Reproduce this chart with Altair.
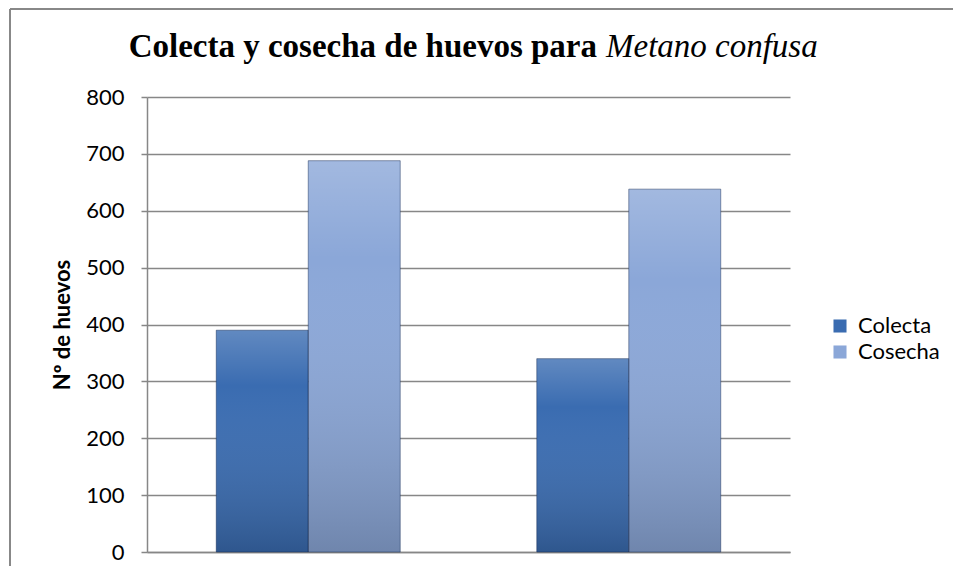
import altair as alt
import pandas as pd

# ---- data ----
grupos = ["1", "2"]
series = ["Colecta", "Cosecha"]
colecta = [390, 340]
cosecha = [688, 638]
colores = ["#3a6cb1", "#8ba7d8"]
y_ticks = [0, 100, 200, 300, 400, 500, 600, 700, 800]

rows = []
for g, c1, c2 in zip(grupos, colecta, cosecha):
    rows.append({"grupo": g, "serie": series[0], "valor": c1})
    rows.append({"grupo": g, "serie": series[1], "valor": c2})
df = pd.DataFrame(rows)
one = pd.DataFrame({"k": [0]})

W, H = 643, 455
GRID = "#878787"

x_enc = alt.X("grupo:N", sort=grupos,
              scale=alt.Scale(paddingInner=0.426, paddingOuter=0.216),
              axis=alt.Axis(labels=False, ticks=False, title=None,
                            domainColor=GRID, domainWidth=1.5, grid=False))
y_enc = alt.Y("valor:Q",
              scale=alt.Scale(domain=[0, 800], nice=False),
              axis=alt.Axis(values=y_ticks, title="Nº de huevos",
                            titleFont="Lato", titleFontSize=22, titleFontWeight="bold",
                            titleColor="black", titleAngle=270, titleX=-85, titleY=H / 2,
                            titleAlign="center", titleBaseline="middle",
                            labelFont="Lato", labelFontSize=22, labelColor="black",
                            labelPadding=17, tickSize=6, tickColor=GRID, tickWidth=1.5,
                            domainColor=GRID, domainWidth=1.5,
                            grid=True, gridColor=GRID, gridWidth=1.5))

bars = alt.Chart(df).mark_bar().encode(
    x=x_enc,
    xOffset=alt.XOffset("serie:N", sort=series),
    y=y_enc,
    color=alt.Color("serie:N", sort=series,
                    scale=alt.Scale(domain=series, range=colores),
                    legend=alt.Legend(title=None, orient="none", legendX=682, legendY=218,
                                      symbolType="square", symbolSize=170,
                                      symbolStrokeWidth=0,
                                      labelFont="Lato", labelFontSize=22, labelColor="black",
                                      labelOffset=7, rowPadding=4)),
)

shade = alt.Chart(df).mark_bar(
    color=alt.Gradient(
        gradient="linear",
        stops=[alt.GradientStop(color="rgba(255,255,255,0.2)", offset=0),
               alt.GradientStop(color="rgba(255,255,255,0.0)", offset=0.25),
               alt.GradientStop(color="rgba(0,0,0,0.2)", offset=1)],
        x1=0, x2=0, y1=0, y2=1),
    stroke="rgba(20,40,80,0.45)", strokeWidth=1,
).encode(
    x=alt.X("grupo:N", sort=grupos),
    xOffset=alt.XOffset("serie:N", sort=series),
    y=alt.Y("valor:Q"),
)

title_a = alt.Chart(one).mark_text(
    text="Colecta y cosecha de huevos para", font="Liberation Serif", fontSize=33,
    fontWeight="bold", align="right", baseline="alphabetic", color="black",
).encode(x=alt.value(450), y=alt.value(-40))

title_b = alt.Chart(one).mark_text(
    text="Metano confusa", font="Liberation Serif", fontSize=33, fontStyle="italic",
    align="left", baseline="alphabetic", color="black",
).encode(x=alt.value(459), y=alt.value(-40))

border_top = alt.Chart(one).mark_rule(color="#888888", strokeWidth=2).encode(
    x=alt.value(-137), x2=alt.value(806), y=alt.value(-88))
border_left = alt.Chart(one).mark_rule(color="#888888", strokeWidth=2).encode(
    x=alt.value(-137), y=alt.value(-88), y2=alt.value(H + 20))

chart = alt.layer(bars, shade, title_a, title_b, border_top, border_left).properties(
    width=W, height=H,
    autosize=alt.AutoSizeParams(type="none"),
    padding={"left": 139, "top": 89, "right": 163, "bottom": 14},
).configure_view(stroke=None)

chart.save("out.html", embed_options={"renderer": "svg", "actions": False})
